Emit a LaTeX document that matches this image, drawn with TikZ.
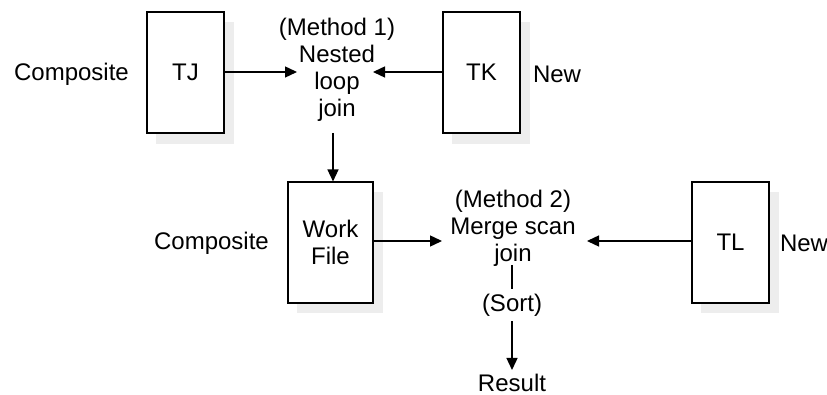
\documentclass[tikz,border=0pt]{standalone}
\usepackage{fontspec}
\setmainfont{Liberation Sans}
\usetikzlibrary{arrows.meta}
\begin{document}
\begin{tikzpicture}[x=1pt,y=-1pt,
  font=\fontsize{24}{27}\selectfont,
  conn/.style={line width=1.4pt,-{Triangle[length=12pt,width=11pt]}},
  plain/.style={line width=1.4pt},
  tbl/.style={draw,line width=1.1pt,fill=white,minimum width=77pt,minimum height=121pt,inner sep=0pt},
  lbl/.style={inner sep=0pt,align=center}]
\useasboundingbox (0,0) rectangle (827,395);
% shadows
\fill[black!7] (156,22) rectangle (234,144);
\fill[black!7] (452,22) rectangle (530,144);
\fill[black!7] (297,192) rectangle (383,313);
\fill[black!7] (701,192) rectangle (779,313);
% tables
\node[tbl] (tj) at (185.5,72.5) {TJ};
\node[tbl] (tk) at (481.5,72.5) {TK};
\node[tbl,minimum width=85pt,align=center] (wf) at (330.5,242.5) {Work\\File};
\node[tbl] (tl) at (730.5,242.5) {TL};
% labels
\node[lbl] (c1) at (71.5,74) {Composite};
\node[lbl] (n1) at (557,74) {New};
\node[lbl] (c2) at (211.5,243) {Composite};
\node[lbl] (n2) at (804,243) {New};
\node[lbl] (m1) at (337,70) {(Method 1)\\Nested\\loop\\join};
\node[lbl] (m2) at (513,228) {(Method 2)\\Merge scan\\join};
\node[lbl,inner sep=5pt] (sort) at (512,305) {(Sort)};
\node[lbl,inner sep=4pt] (res) at (512,383) {Result};
% connector end points
\coordinate (m1l) at (297,72);
\coordinate (m1r) at (373,72);
\coordinate (m1b) at (333,133);
\coordinate (m2l) at (442,241);
\coordinate (m2r) at (587,241);
\coordinate (m2b) at (512,265);
% connectors
\draw[conn] (tj.east |- m1l) -- (m1l);
\draw[conn] (tk.west |- m1r) -- (m1r);
\draw[conn] (m1b) -- (m1b |- wf.north);
\draw[conn] (wf.east |- m2l) -- (m2l);
\draw[conn] (tl.west |- m2r) -- (m2r);
\draw[plain] (m2b) -- (sort.north);
\draw[conn] (sort.south) -- (res.north);
\end{tikzpicture}
\end{document}
